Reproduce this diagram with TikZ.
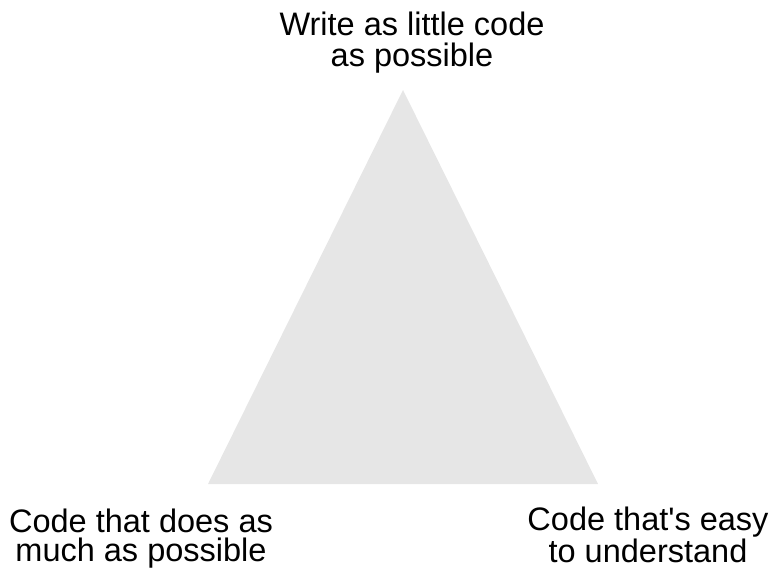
\documentclass[tikz,border=0pt]{standalone}
\usepackage{fontspec}
\setmainfont{Liberation Sans}
\definecolor{trigray}{HTML}{E6E6E6}
\begin{document}
\begin{tikzpicture}[x=1pt,y=-1pt,
  lbl/.style={align=center,inner sep=0pt,anchor=base,font=\fontsize{32.5}{31}\selectfont},
  lowlbl/.style={lbl,font=\fontsize{32.5}{28.5}\selectfont}]
\useasboundingbox (0,0) rectangle (775,570);
\coordinate (apex) at (403,90);
\coordinate (bl) at (208,484);
\coordinate (br) at (598,484);
\fill[trigray] (apex) -- (bl) -- (br) -- cycle;
\node[lbl] (top) at (412,66) {Write as little code\\as possible};
\node[lowlbl] (left) at (141,561) {Code that does as\\much as possible};
\node[lowlbl] (right) at (648,562) {Code that\textquotesingle s easy\\to understand};
\end{tikzpicture}
\end{document}
